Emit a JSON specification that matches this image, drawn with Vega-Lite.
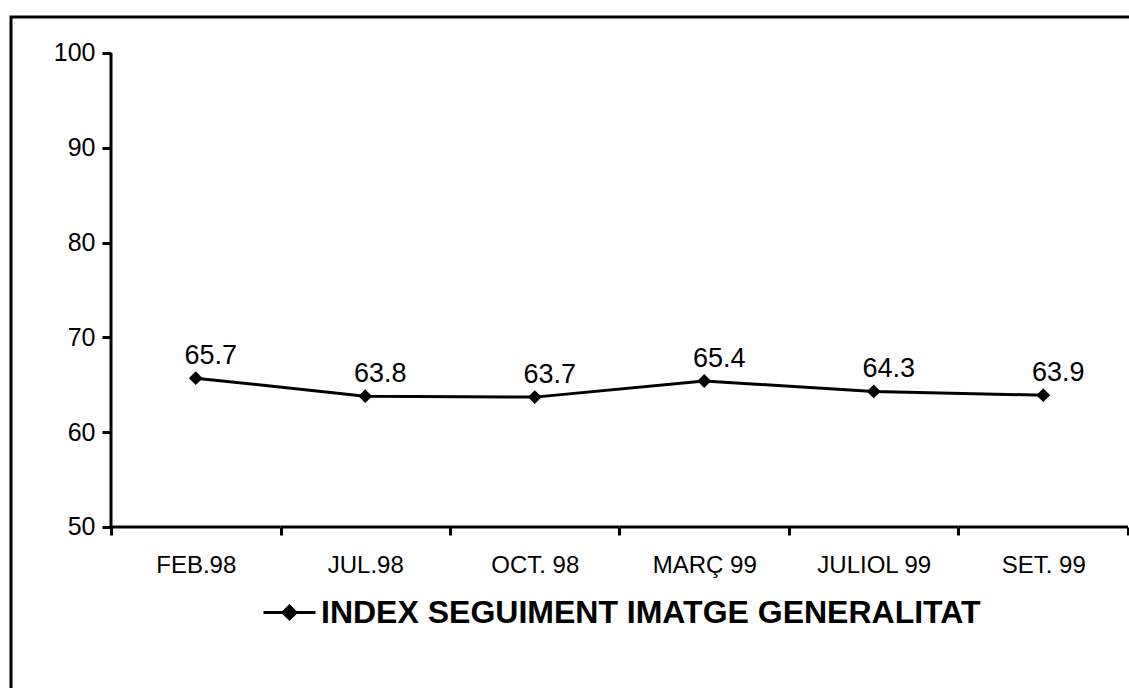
{
  "$schema": "https://vega.github.io/schema/vega-lite/v6.json",
  "width": 1125,
  "height": 675,
  "autosize": {"type": "none"},
  "padding": {"left": 11, "top": 17, "right": 0, "bottom": 0},
  "background": "white",
  "config": {
    "view": {"stroke": "black", "strokeWidth": 3},
    "font": "Liberation Sans",
    "axisY": {
      "orient": "left",
      "offset": -100,
      "values": [50, 60, 70, 80, 90, 100],
      "domain": false,
      "grid": false,
      "ticks": true,
      "tickSize": 9,
      "tickWidth": 3,
      "tickColor": "black",
      "labelFontSize": 25,
      "labelColor": "black",
      "labelPadding": 7,
      "titleOpacity": 0
    }
  },
  "data": {
    "values": [
      {"period": "FEB.98", "value": 65.7},
      {"period": "JUL.98", "value": 63.8},
      {"period": "OCT. 98", "value": 63.7},
      {"period": "MARÇ 99", "value": 65.4},
      {"period": "JULIOL 99", "value": 64.3},
      {"period": "SET. 99", "value": 63.9}
    ]
  },
  "encoding": {
    "x": {
      "field": "period",
      "type": "nominal",
      "sort": null,
      "scale": {
        "type": "band",
        "domain": ["FEB.98", "JUL.98", "OCT. 98", "MARÇ 99", "JULIOL 99", "SET. 99"],
        "paddingInner": 0,
        "paddingOuter": 0.3186,
        "align": 0.9259
      },
      "axis": {
        "orient": "bottom",
        "offset": -165,
        "domain": false,
        "grid": false,
        "ticks": true,
        "tickBand": "extent",
        "tickSize": 8,
        "tickWidth": 3,
        "tickColor": "black",
        "labelFontSize": 24,
        "labelColor": "black",
        "labelPadding": 18,
        "labelAngle": 0,
        "labelOverlap": false,
        "title": null
      }
    }
  },
  "layer": [
    {
      "mark": {"type": "line", "color": "black", "strokeWidth": 3},
      "encoding": {
        "y": {
          "field": "value",
          "type": "quantitative",
          "title": null,
          "scale": {"domain": [32.595, 103.797], "nice": false, "zero": false},
          "axis": {"values": [50, 60, 70, 80, 90, 100], "offset": -100, "title": null}
        }
      }
    },
    {
      "mark": {"type": "bar", "fill": "black", "stroke": "black", "strokeWidth": 3, "width": {"band": 1}},
      "encoding": {
        "y": {"datum": 50, "type": "quantitative", "title": null},
        "y2": {"datum": 50}
      }
    },
    {
      "transform": [{"filter": "datum.period === 'FEB.98'"}],
      "mark": {"type": "rule", "color": "black", "strokeWidth": 3},
      "encoding": {
        "x": {"field": "period", "type": "nominal", "bandPosition": 0},
        "y": {"datum": 50, "type": "quantitative", "title": null},
        "y2": {"datum": 100}
      }
    },
    {
      "mark": {"type": "point", "shape": "diamond", "filled": true, "size": 190, "opacity": 1},
      "encoding": {
        "y": {"field": "value", "type": "quantitative", "title": null},
        "color": {
          "datum": "INDEX SEGUIMENT IMATGE GENERALITAT",
          "type": "nominal",
          "scale": {"range": ["black"]},
          "legend": {
            "orient": "none",
            "legendX": 251,
            "legendY": 568,
            "title": null,
            "padding": 0,
            "symbolType": "M-1,0L1,0M-0.25,0L0,-0.25L0.25,0L0,0.25Z",
            "symbolSize": 2704,
            "symbolStrokeWidth": 3,
            "symbolFillColor": "black",
            "symbolStrokeColor": "black",
            "labelFont": "Liberation Sans",
            "labelFontWeight": "bold",
            "labelFontSize": 32,
            "labelColor": "black",
            "labelOffset": 4,
            "labelLimit": 1000,
            "encode": {
              "symbols": {
                "update": {
                  "fill": {"value": "black"},
                  "stroke": {"value": "black"},
                  "strokeWidth": {"value": 3},
                  "opacity": {"value": 1}
                }
              }
            }
          }
        }
      }
    },
    {
      "mark": {"type": "text", "fontSize": 27, "color": "black", "dx": 15, "dy": -14, "baseline": "alphabetic", "align": "center"},
      "encoding": {
        "y": {"field": "value", "type": "quantitative", "title": null},
        "text": {"field": "value", "type": "quantitative", "format": ".1f"}
      }
    }
  ]
}
